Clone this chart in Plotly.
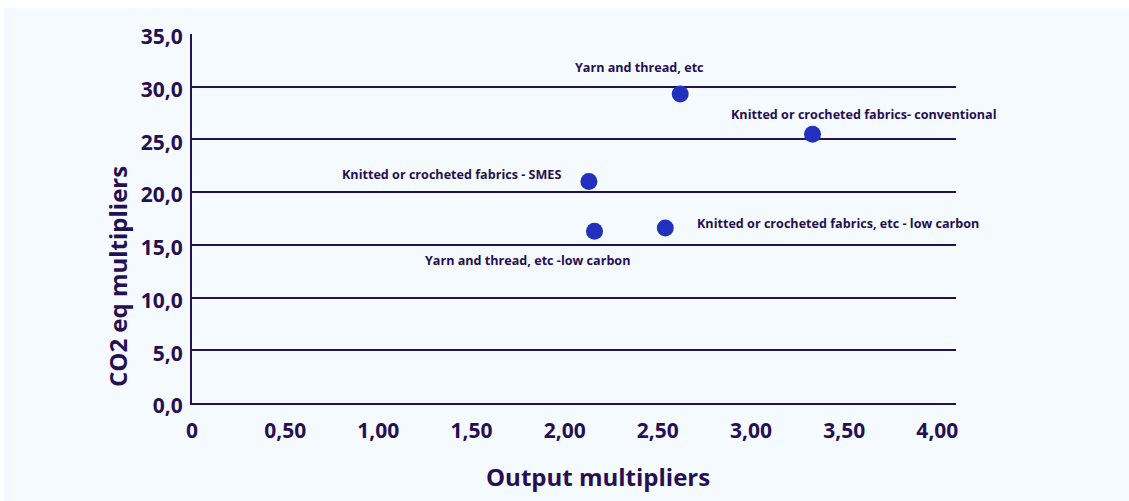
import plotly.graph_objects as go

# Textile product groups: output multipliers vs CO2-equivalent multipliers
products = [
    "Yarn and thread, etc",
    "Knitted or crocheted fabrics- conventional",
    "Knitted or crocheted fabrics - SMES",
    "Yarn and thread, etc -low carbon",
    "Knitted or crocheted fabrics, etc - low carbon",
]
output_multipliers = [2.62, 3.33, 2.13, 2.16, 2.54]
co2_multipliers = [29.3, 25.5, 21.0, 16.3, 16.6]

x_ticks = [0, 0.5, 1.0, 1.5, 2.0, 2.5, 3.0, 3.5, 4.0]
x_tick_text = ["0", "0,50", "1,00", "1,50", "2,00", "2,50", "3,00", "3,50", "4,00"]
y_ticks = [0, 5, 10, 15, 20, 25, 30, 35]
y_tick_text = ["0,0", "5,0", "10,0", "15,0", "20,0", "25,0", "30,0", "35,0"]

INK = "#260f52"
DOT = "#2131bd"
BG = "#f5fafe"
FONT = "Open Sans"

# label placement relative to each dot (pixels)
label_offsets = {
    "Yarn and thread, etc": (-41, 27, "center"),
    "Knitted or crocheted fabrics- conventional": (51, 20, "center"),
    "Knitted or crocheted fabrics - SMES": (-26, 7, "right"),
    "Yarn and thread, etc -low carbon": (-67, -29, "center"),
    "Knitted or crocheted fabrics, etc - low carbon": (30, 4, "left"),
}

fig = go.Figure()
fig.add_trace(go.Scatter(
    x=output_multipliers,
    y=co2_multipliers,
    mode="markers",
    marker=dict(size=17, color=DOT),
    hovertext=products,
    showlegend=False,
    cliponaxis=False,
))

annotations = []
for name, xv, yv in zip(products, output_multipliers, co2_multipliers):
    dx, dy, anchor = label_offsets[name]
    annotations.append(dict(
        x=xv, y=yv, xref="x", yref="y", text=name, showarrow=False,
        xshift=dx, yshift=dy, xanchor=anchor, yanchor="middle",
        font=dict(family=FONT, size=12.6, color=INK, weight="bold"),
    ))

# axis titles
annotations.append(dict(
    x=(598 - 192) / 764, y=(403 - 476) / 369, xref="paper", yref="paper",
    text="Output multipliers", showarrow=False, xanchor="center", yanchor="middle",
    font=dict(family=FONT, size=24, color=INK, weight="bold"),
))
annotations.append(dict(
    x=(117 - 192) / 764, y=(403 - 277) / 369, xref="paper", yref="paper",
    text="CO2 eq multipliers", showarrow=False, textangle=-90,
    xanchor="center", yanchor="middle",
    font=dict(family=FONT, size=24, color=INK, weight="bold"),
))

fig.update_layout(
    width=1129,
    height=501,
    margin=dict(l=192, r=173, t=34, b=98),
    paper_bgcolor="white",
    plot_bgcolor=BG,
    annotations=annotations,
    shapes=[dict(
        type="rect", xref="paper", yref="paper", layer="below",
        x0=(4 - 192) / 764, x1=(1129 - 192) / 764,
        y0=(403 - 501) / 369, y1=(403 - 8) / 369,
        fillcolor=BG, line=dict(width=0),
    )],
    xaxis=dict(
        range=[0, 4.1], tickvals=x_ticks, ticktext=x_tick_text,
        showgrid=False, zeroline=False,
        showline=True, linecolor=INK, linewidth=2,
        ticks="", ticklabelstandoff=8,
        tickfont=dict(family=FONT, size=21, color=INK, weight="bold"),
    ),
    yaxis=dict(
        range=[0, 35], tickvals=y_ticks, ticktext=y_tick_text,
        showgrid=True, gridcolor=INK, gridwidth=2,
        zeroline=False,
        showline=True, linecolor=INK, linewidth=2,
        ticks="", ticklabelstandoff=3, ticklabelshift=3,
        tickfont=dict(family=FONT, size=21, color=INK, weight="bold"),
    ),
)

fig.write_html("out.html")
